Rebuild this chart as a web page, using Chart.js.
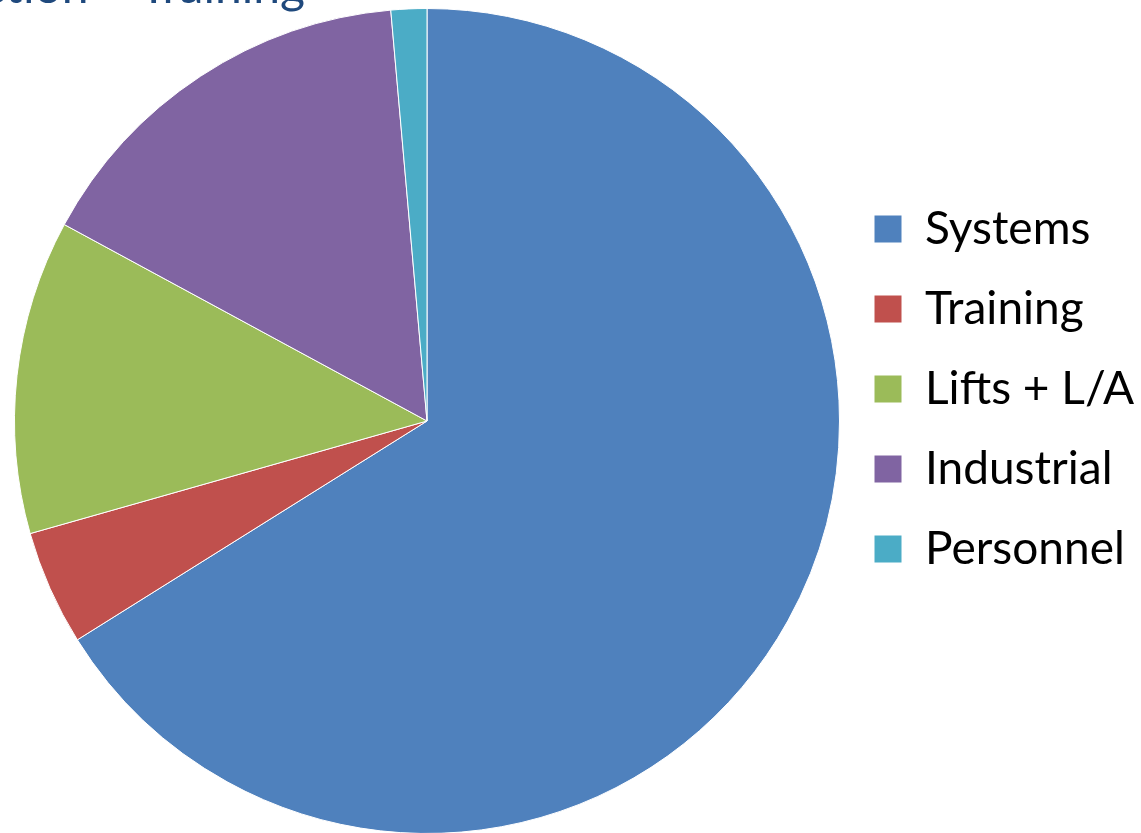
<!DOCTYPE html>
<html>
<head>
<meta charset="utf-8">
<script src="https://cdn.jsdelivr.net/npm/chart.js@4"></script>
<style>
  html, body { margin: 0; padding: 0; background: #fff; overflow: hidden; }
  #wrap { position: relative; width: 1141px; height: 833px; overflow: hidden; }
  #title {
    position: absolute; right: 836px; top: -39px;
    white-space: nowrap; font: 48px Lato, sans-serif; line-height: 48px;
    color: #1F497D;
  }
  canvas { position: absolute; left: 0; top: 0; }
</style>
</head>
<body>
<div id="wrap">
  <canvas id="pie" width="1141" height="835"></canvas>
  <div id="title">Inspection + Training</div>
</div>
<script>
// 데이터
const labels = ['Systems', 'Training', 'Lifts + L/A', 'Industrial', 'Personnel'];
const shares = [66.1, 4.5, 12.3, 15.7, 1.4];
const colors = ['#4F81BD', '#C0504D', '#9BBB59', '#8064A2', '#4BACC6'];

// 범례 너비 고정 + 위로 조금 올리기
const legendPlace = {
  id: 'legendPlace',
  beforeInit(chart) {
    const fit = chart.legend.fit;
    chart.legend.fit = function() {
      fit.call(this);
      this.width = 301;
    };
  },
  afterLayout(chart) {
    chart.legend.top -= 32;
    chart.legend.bottom -= 32;
  }
};

new Chart(document.getElementById('pie'), {
  type: 'pie',
  data: {
    labels: labels,
    datasets: [{
      data: shares,
      backgroundColor: colors,
      borderColor: '#fff',
      borderWidth: 1
    }]
  },
  options: {
    responsive: false,
    animation: false,
    layout: { padding: { left: 14, top: 7, right: 0, bottom: 0 } },
    plugins: {
      tooltip: { enabled: false },
      legend: {
        position: 'right',
        labels: {
          boxWidth: 28,
          boxHeight: 28,
          padding: 34,
          color: '#000',
          font: { family: 'Lato', size: 46 }
        }
      }
    }
  },
  plugins: [legendPlace]
});
</script>
</body>
</html>
